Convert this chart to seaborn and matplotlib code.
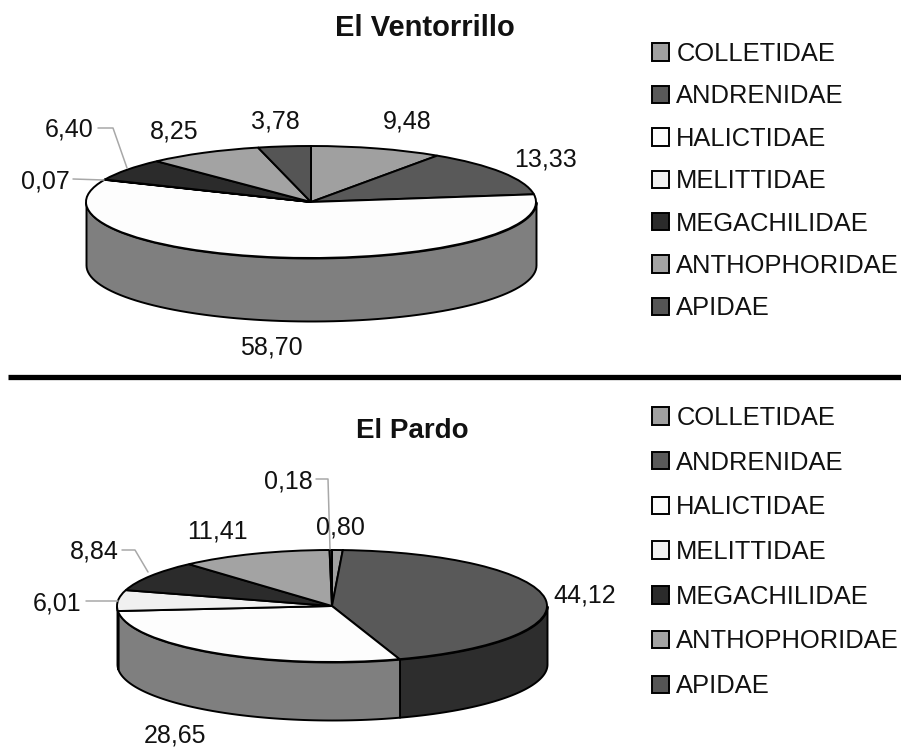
import numpy as np
import seaborn as sns
import matplotlib
matplotlib.use("Agg")
import matplotlib.pyplot as plt
from matplotlib.lines import Line2D

sns.set_theme(style="white")
plt.rcParams['font.family'] = ['Liberation Sans', 'DejaVu Sans']

W, H = 901, 747

families = ['COLLETIDAE', 'ANDRENIDAE', 'HALICTIDAE', 'MELITTIDAE',
            'MEGACHILIDAE', 'ANTHOPHORIDAE', 'APIDAE']
ventorrillo = [9.48, 13.33, 58.70, 0.07, 6.40, 8.25, 3.78]
pardo = [0.80, 44.12, 28.65, 6.01, 8.84, 11.41, 0.18]
greys = ['#a0a0a0', '#595959', '#fdfdfd', '#f0f0f0', '#2b2b2b', '#a3a3a3', '#555555']

# label centres in pixels, same order as the values
ventorrillo_pos = [(407, 122), (545, 160), (271, 347), (45, 181), (69, 130), (174, 131), (275, 122)]
pardo_pos = [(340, 527), (585, 595), (175, 735), (57, 603), (94, 552), (217, 531), (288, 482)]

ventorrillo_leaders = [[(98, 128), (113, 128), (127, 168)], [(73, 179), (104, 180)]]
pardo_leaders = [[(316, 479), (328, 479), (330, 549)],
                 [(122, 550), (135, 550), (148, 572)],
                 [(86, 601), (118, 601)]]

palette = sns.color_palette(greys)
fig = plt.figure(figsize=(W / 100, H / 100), dpi=100)


def px(x, y):
    return x / W, 1 - y / H


def draw_pie(values, left, right, top, ry, depth):
    ax = fig.add_axes([left / W, 1 - (top + 2 * ry + depth) / H,
                       (right - left) / W, (2 * ry + depth) / H])
    d = depth / ry
    # front wall first, the pie goes on top of it
    edges = np.concatenate([[0], np.cumsum(values)]) / np.sum(values) * 360
    for i, col in enumerate(palette):
        a, b = max(edges[i], 90), min(edges[i + 1], 270)
        if b <= a:
            continue
        t = np.radians(np.linspace(a, b, 80))
        ax.fill_between(np.sin(t), np.cos(t), np.cos(t) - d,
                        facecolor=np.array(col) * 0.5, edgecolor='black',
                        linewidth=1.4, clip_on=False)
    wedges, _ = ax.pie(values, colors=palette, startangle=90, counterclock=False,
                       wedgeprops=dict(edgecolor='black', linewidth=1.4, clip_on=False))
    ax.set_aspect('auto')
    ax.set_xlim(-1, 1)
    ax.set_ylim(-1 - d, 1)
    ax.axis('off')
    return wedges


def add_labels(values, positions, leaders):
    for v, (x, y) in zip(values, positions):
        fx, fy = px(x, y)
        fig.text(fx, fy, f"{v:.2f}".replace('.', ','), fontsize=18,
                 color='#111111', ha='center', va='center')
    for pts in leaders:
        xy = [px(*p) for p in pts]
        fig.add_artist(Line2D([p[0] for p in xy], [p[1] for p in xy],
                              color='#a8a8a8', linewidth=1.1))


def add_legend(wedges, x, y, spacing):
    fig.legend(wedges, families, loc='upper left', bbox_to_anchor=px(x, y),
               bbox_transform=fig.transFigure, frameon=False, fontsize=18.4,
               handlelength=0.67, handleheight=0.67, handletextpad=0.28,
               labelspacing=spacing, borderpad=0, borderaxespad=0, labelcolor='#111111')


w1 = draw_pie(ventorrillo, 86, 536, 146, 56, 63)
w2 = draw_pie(pardo, 117, 547, 550, 56, 58)

add_labels(ventorrillo, ventorrillo_pos, ventorrillo_leaders)
add_labels(pardo, pardo_pos, pardo_leaders)

add_legend(w1, 652, 42, 0.72)
add_legend(w2, 652, 406, 0.81)

fx, fy = px(425, 28)
fig.text(fx, fy, 'El Ventorrillo', fontsize=21, fontweight='bold', ha='center', va='center', color='#111111')
fx, fy = px(412, 431)
fig.text(fx, fy, 'El Pardo', fontsize=20, fontweight='bold', ha='center', va='center', color='#111111')

# thick rule between the two panels
x0, y0 = px(8, 377.5)
x1, y1 = px(901, 377.5)
fig.add_artist(Line2D([x0, x1], [y0, y1], color='black', linewidth=3.8, solid_capstyle='butt'))

fig.savefig('out.png', dpi=100)
